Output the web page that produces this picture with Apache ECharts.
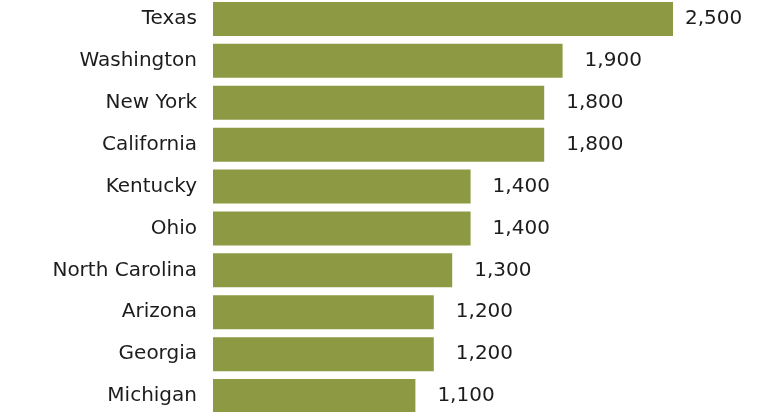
<!DOCTYPE html>
<html>
<head>
<meta charset="utf-8">
<script src="https://cdn.jsdelivr.net/npm/echarts@6/dist/echarts.min.js"></script>
<style>html,body{margin:0;padding:0;background:#fff}#c{width:765px;height:412px}</style>
</head>
<body>
<div id="c"></div>
<script>
const categories = ["Texas","Washington","New York","California","Kentucky","Ohio","North Carolina","Arizona","Georgia","Michigan"];
const values = [2500,1900,1800,1800,1400,1400,1300,1200,1200,1100];

const chart = echarts.init(document.getElementById('c'), null, {renderer:'canvas'});
const font = '"DejaVu Sans", Verdana, sans-serif';
chart.setOption({
  animation: false,
  backgroundColor: '#ffffff',
  grid: {left: 213, top: -2, width: 460, height: 419, containLabel: false, outerBoundsMode: 'none'},
  xAxis: {type: 'value', min: 0, max: 2500, show: false},
  yAxis: {
    type: 'category', data: categories, inverse: true,
    axisLine: {show: false}, axisTick: {show: false},
    axisLabel: {margin: 16, color: '#1c1c1c', fontSize: 20, fontFamily: font}
  },
  series: [{
    type: 'bar', barWidth: 34,
    itemStyle: {color: '#8d9a43'},
    data: values.map((v, i) => i === 0 ? {value: v, label: {distance: 12}} : v),
    label: {
      show: true, position: 'right', distance: 22,
      color: '#1c1c1c', fontSize: 20, fontFamily: font,
      formatter: p => p.value.toLocaleString('en-US')
    }
  }]
});
</script>
</body>
</html>
